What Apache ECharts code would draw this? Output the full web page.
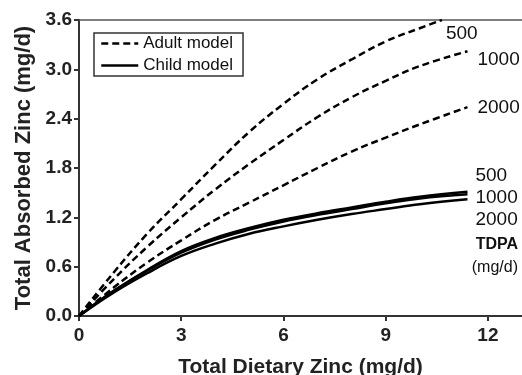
<!DOCTYPE html>
<html>
<head>
<meta charset="utf-8">
<script src="https://cdn.jsdelivr.net/npm/echarts@6/dist/echarts.min.js"></script>
<style>
  html, body { margin: 0; padding: 0; background: #fff; }
  #chart { width: 522px; height: 375px; }
</style>
</head>
<body>
<div id="chart"></div>
<script>
// dietary zinc (mg/d), x positions of the read points
var dietZinc = [0, 1, 2, 3, 4, 5, 6, 7, 8, 9, 10, 11.4];
var dietZincA500 = [0, 1, 2, 3, 4, 5, 6, 7, 8, 9, 10, 10.65];

// absorbed zinc (mg/d) per TDPA level
var adult500 = [0, 0.52, 1.0, 1.42, 1.84, 2.24, 2.58, 2.88, 3.12, 3.34, 3.5, 3.6];
var adult1000 = [0, 0.44, 0.84, 1.2, 1.54, 1.85, 2.14, 2.42, 2.66, 2.86, 3.04, 3.22];
var adult2000 = [0, 0.34, 0.65, 0.92, 1.17, 1.38, 1.59, 1.8, 2.0, 2.17, 2.33, 2.54];
var child500 = [0, 0.3, 0.56, 0.79, 0.95, 1.07, 1.17, 1.25, 1.32, 1.39, 1.45, 1.51];
var child1000 = [0, 0.3, 0.55, 0.77, 0.93, 1.05, 1.15, 1.23, 1.3, 1.37, 1.43, 1.48];
var child2000 = [0, 0.28, 0.52, 0.73, 0.88, 1.0, 1.09, 1.17, 1.24, 1.3, 1.36, 1.42];

var FONT = 'Liberation Sans, Arial, sans-serif';

function pairs(xs, ys) {
  return xs.map(function (x, i) { return [x, ys[i]]; });
}

// one curve, dashed for adult, solid for child
function curve(name, dashed, xs, ys, tdpa, offset) {
  return {
    name: name,
    type: 'line',
    smooth: 0.4,
    symbol: 'none',
    silent: true,
    color: '#000',
    itemStyle: { color: '#000' },
    lineStyle: {
      color: '#000',
      width: 2.5,
      type: dashed ? [7, 4] : 'solid'
    },
    endLabel: {
      show: true,
      formatter: String(tdpa),
      color: '#111',
      fontFamily: FONT,
      fontSize: 19,
      offset: offset
    },
    data: pairs(xs, ys)
  };
}

var chart = echarts.init(document.getElementById('chart'));

chart.setOption({
  animation: false,
  grid: { left: 79, right: 0, top: 20, bottom: 59, outerBoundsMode: 'none' },
  legend: {
    left: 94,
    top: 33,
    orient: 'vertical',
    data: ['Adult model', 'Child model'],
    itemWidth: 37,
    itemHeight: 18,
    itemGap: 5,
    padding: [2, 10, 2, 6],
    borderColor: '#333',
    borderWidth: 1.5,
    itemStyle: { opacity: 0 },
    lineStyle: { color: '#000', width: 2.5 },
    textStyle: { fontFamily: FONT, fontSize: 17, color: '#111' }
  },
  xAxis: [{
    type: 'value',
    min: 0,
    max: 13,
    interval: 3,
    name: 'Total Dietary Zinc (mg/d)',
    nameLocation: 'middle',
    nameGap: 41,
    nameTextStyle: { fontFamily: FONT, fontSize: 21, fontWeight: 'bold', color: '#222' },
    axisLine: { lineStyle: { color: '#333', width: 2 } },
    axisTick: { length: 5, lineStyle: { color: '#333', width: 2 } },
    axisLabel: {
      showMaxLabel: false,
      margin: 10,
      fontFamily: FONT,
      fontSize: 19,
      fontWeight: 'bold',
      color: '#222'
    },
    splitLine: { show: false }
  }, {
    type: 'value',
    position: 'top',
    min: 0,
    max: 13,
    axisLine: { show: true, onZero: false, lineStyle: { color: '#555', width: 1.5 } },
    axisTick: { show: false },
    axisLabel: { show: false },
    splitLine: { show: false }
  }],
  yAxis: {
    type: 'value',
    min: 0,
    max: 3.6,
    interval: 0.6,
    name: 'Total Absorbed Zinc (mg/d)',
    nameLocation: 'middle',
    nameGap: 42,
    nameTextStyle: { fontFamily: FONT, fontSize: 22, fontWeight: 'bold', color: '#222' },
    axisLine: { show: true, lineStyle: { color: '#333', width: 2 } },
    axisTick: { show: true, length: 5, lineStyle: { color: '#333', width: 2 } },
    axisLabel: {
      margin: 7,
      fontFamily: FONT,
      fontSize: 19,
      fontWeight: 'bold',
      color: '#222',
      formatter: function (v) { return v.toFixed(1); }
    },
    splitLine: { show: false }
  },
  graphic: [{
    type: 'text',
    right: 4,
    top: 237,
    style: { text: 'TDPA', font: 'bold 16px ' + FONT, fill: '#111' }
  }, {
    type: 'text',
    right: 4,
    top: 260,
    style: { text: '(mg/d)', font: '16px ' + FONT, fill: '#111' }
  }],
  series: [
    curve('Adult model', true, dietZincA500, adult500, 500, [-4, 14]),
    curve('Adult model', true, dietZinc, adult1000, 1000, [2, 9]),
    curve('Adult model', true, dietZinc, adult2000, 2000, [2, 1]),
    curve('Child model', false, dietZinc, child500, 500, [0, -16]),
    curve('Child model', false, dietZinc, child1000, 1000, [0, 3]),
    curve('Child model', false, dietZinc, child2000, 2000, [0, 21])
  ]
});
</script>
</body>
</html>
